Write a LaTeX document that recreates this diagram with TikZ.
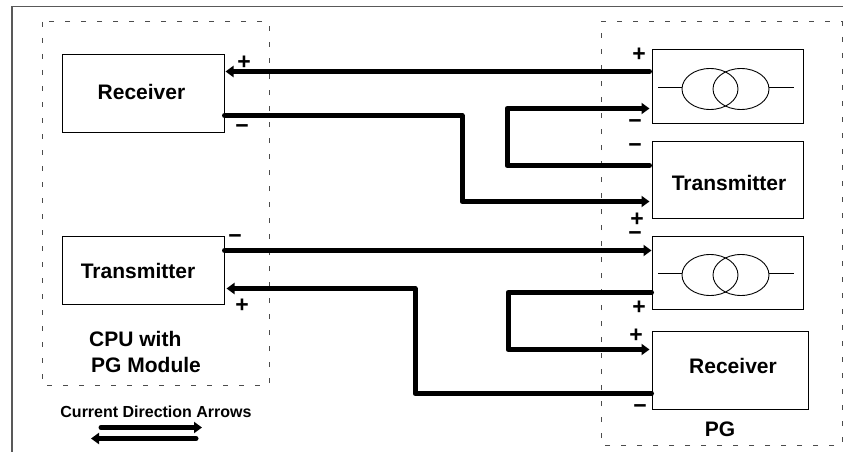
\documentclass[tikz,border=0pt]{standalone}
\usepackage{fontspec}
\setmainfont{Liberation Sans}
\usetikzlibrary{arrows.meta}
\tikzset{
  box/.style={draw=black,line width=1pt,fill=white,inner sep=0pt},
  boxtext/.style={font=\bfseries\fontsize{21}{24}\selectfont,inner sep=0pt},
  zone/.style={draw=black!70,line width=1pt,dash pattern=on 5pt off 11pt},
  frameline/.style={draw=black!65,line width=1.4pt},
  wire/.style={line width=5pt,line cap=round,line join=round},
  loopwire/.style={wire,line width=5pt},
  tip/.style={-{Triangle[length=8pt,width=11pt]}},
  pol/.style={font=\bfseries\fontsize{23}{24}\selectfont,inner sep=0pt},
  caption/.style={boxtext,anchor=west},
  coil/.style={draw=black,line width=0.9pt},
}
\begin{document}
\begin{tikzpicture}[x=1pt,y=-1pt]
\useasboundingbox (0,0) rectangle (843,452);
\draw[frameline] (12,452) -- (12,6.5) -- (843,6.5);
\draw[zone] (42,22) rectangle (269,385);
\draw[zone] (601,22) -- (842,22) -- (842,445) -- (601,445) -- cycle;

\node[box,minimum width=162pt,minimum height=77pt] (rxL) at (143,93.5) {};
\node[box,minimum width=162pt,minimum height=68pt] (txL) at (143,270) {};
\node[box,minimum width=151pt,minimum height=73pt] (trA) at (727.5,86.5) {};
\node[box,minimum width=151pt,minimum height=77pt] (txR) at (727.5,179.5) {};
\node[box,minimum width=151pt,minimum height=73pt] (trB) at (727.5,272.5) {};
\node[box,minimum width=156pt,minimum height=78pt] (rxR) at (730,370) {};

\node[boxtext] (t1) at (141.5,92) {Receiver};
\node[boxtext] (t2) at (138,271) {Transmitter};
\node[boxtext] (t3) at (729,183) {Transmitter};
\node[boxtext] (t4) at (733,366) {Receiver};

% transformer symbols
\draw[coil] (658,87.5) -- (682,87.5) (769,87.5) -- (794,87.5);
\draw[coil] (710,89) ellipse [x radius=28,y radius=20.5];
\draw[coil] (741,89) ellipse [x radius=28,y radius=20.5];
\draw[coil] (658,273) -- (682,273) (769,273) -- (794,273);
\draw[coil] (710,275) ellipse [x radius=28,y radius=20.5];
\draw[coil] (741,275) ellipse [x radius=28,y radius=20.5];

% levels of the wires
\coordinate (a1) at (650,71.5);
\coordinate (a2) at (462,115.5);
\coordinate (a3) at (650,201.5);
\coordinate (b1) at (507,108.5);
\coordinate (b2) at (650,165.5);
\coordinate (c1) at (650,250.5);
\coordinate (d1) at (415,288.5);
\coordinate (d2) at (650,393.5);
\coordinate (e1) at (508,292.5);
\coordinate (e2) at (650,349.5);

\draw[wire,tip] ([xshift=-2pt]trA.west |- a1) -- ([xshift=1pt]rxL.east |- a1);
\draw[wire,tip] (rxL.east |- a2) -- (a2) -- (a2 |- a3) -- ([xshift=-2pt]trA.west |- a3);
\draw[loopwire,tip] ([xshift=-2pt]txR.west |- b2) -- (b1 |- b2) -- (b1) -- ([xshift=-2pt]trA.west |- b1);
\draw[wire,tip] (txL.east |- c1) -- (trB.west |- c1);
\draw[wire,tip] (rxR.west |- d2) -- (d1 |- d2) -- (d1) -- ([xshift=2pt]txL.east |- d1);
\draw[loopwire,tip] (trB.west |- e1) -- (e1) -- (e1 |- e2) -- ([xshift=-2pt]rxR.west |- e2);

% polarity marks
\node[pol] (p1) at (244,62.5) {+};
\node[pol] (p2) at (242,129.5) {\textminus};
\node[pol] (p3) at (639,54.5) {+};
\node[pol] (p4) at (635,124.5) {\textminus};
\node[pol] (p5) at (635,148.5) {\textminus};
\node[pol] (p6) at (637,219.5) {+};
\node[pol] (p7) at (235,239.5) {\textminus};
\node[pol] (p8) at (242,305.5) {+};
\node[pol] (p9) at (635,236.5) {\textminus};
\node[pol] (p10) at (639,307.5) {+};
\node[pol] (p11) at (636,335.5) {+};
\node[pol] (p12) at (640,409.5) {\textminus};

\node[caption] (c1t) at (89,339) {CPU with};
\node[caption] (c2t) at (91,365) {PG Module};
\node[boxtext] (pg) at (720,429) {PG};
\node[font=\bfseries\fontsize{16}{18}\selectfont,inner sep=0pt] (leg) at (156,412) {Current Direction Arrows};

\coordinate (l1a) at (101,427.5);
\coordinate (l1b) at (202,427.5);
\coordinate (l2a) at (196,438.5);
\coordinate (l2b) at (91,438.5);
\draw[wire,tip] (l1a) -- (l1b);
\draw[wire,tip] (l2a) -- (l2b);
\end{tikzpicture}
\end{document}
